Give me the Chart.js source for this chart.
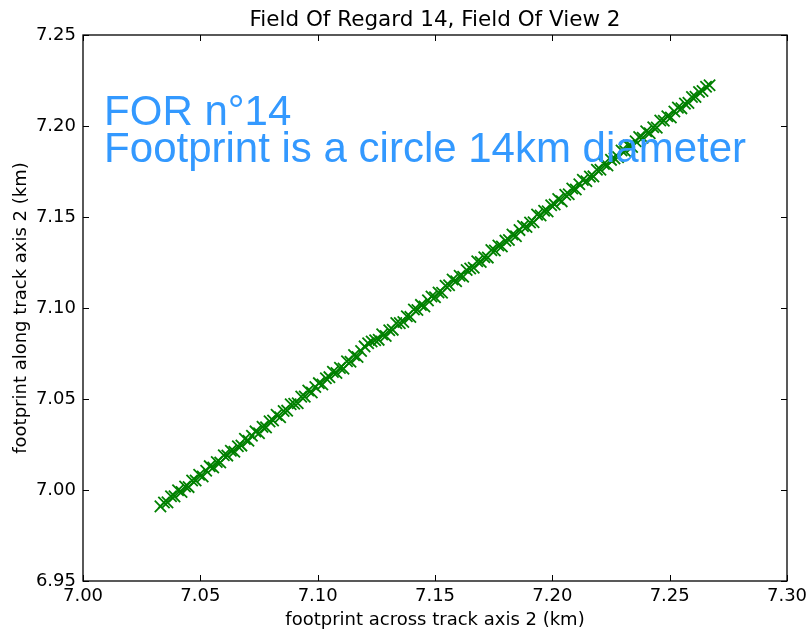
<!DOCTYPE html>
<html>
<head>
<meta charset="utf-8">
<script src="https://cdn.jsdelivr.net/npm/chart.js@4.4.0/dist/chart.umd.min.js"></script>
<style>
  html, body { margin: 0; padding: 0; background: #fff; }
  #wrap { width: 809px; height: 631px; }
</style>
</head>
<body>
<div id="wrap"><canvas id="fovChart" width="809" height="631"></canvas></div>
<script>
// footprint positions (km), FOR 14 / FOV 2
const acrossTrack = [
    7.0330, 7.0345, 7.0360, 7.0375, 7.0390, 7.0405, 7.0420, 7.0435, 7.0450, 7.0465,
    7.0480, 7.0495, 7.0510, 7.0525, 7.0540, 7.0555, 7.0570, 7.0585, 7.0600, 7.0615,
    7.0630, 7.0645, 7.0660, 7.0675, 7.0690, 7.0705, 7.0720, 7.0735, 7.0750, 7.0765,
    7.0780, 7.0795, 7.0810, 7.0825, 7.0840, 7.0855, 7.0870, 7.0885, 7.0900, 7.0915,
    7.0930, 7.0945, 7.0960, 7.0975, 7.0990, 7.1005, 7.1020, 7.1035, 7.1050, 7.1065,
    7.1080, 7.1095, 7.1110, 7.1125, 7.1140, 7.1155, 7.1170, 7.1185, 7.1200, 7.1215,
    7.1230, 7.1245, 7.1260, 7.1275, 7.1290, 7.1305, 7.1320, 7.1335, 7.1350, 7.1365,
    7.1380, 7.1395, 7.1410, 7.1425, 7.1440, 7.1455, 7.1470, 7.1485, 7.1500, 7.1515,
    7.1530, 7.1545, 7.1560, 7.1575, 7.1590, 7.1605, 7.1620, 7.1635, 7.1650, 7.1665,
    7.1680, 7.1695, 7.1710, 7.1725, 7.1740, 7.1755, 7.1770, 7.1785, 7.1800, 7.1815,
    7.1830, 7.1845, 7.1860, 7.1875, 7.1890, 7.1905, 7.1920, 7.1935, 7.1950, 7.1965,
    7.1980, 7.1995, 7.2010, 7.2025, 7.2040, 7.2055, 7.2070, 7.2085, 7.2100, 7.2115,
    7.2130, 7.2145, 7.2160, 7.2175, 7.2190, 7.2205, 7.2220, 7.2235, 7.2250, 7.2265,
    7.2280, 7.2295, 7.2310, 7.2325, 7.2340, 7.2355, 7.2370, 7.2385, 7.2400, 7.2415,
    7.2430, 7.2445, 7.2460, 7.2475, 7.2490, 7.2505, 7.2520, 7.2535, 7.2550, 7.2565,
    7.2580, 7.2595, 7.2610, 7.2625, 7.2640, 7.2655, 7.2670
];
const alongTrack = [
    6.9910, 6.9931, 6.9932, 6.9966, 6.9965, 6.9999, 6.9989, 7.0019, 7.0016, 7.0052,
    7.0052, 7.0084, 7.0074, 7.0106, 7.0131, 7.0124, 7.0154, 7.0151, 7.0191, 7.0189,
    7.0216, 7.0210, 7.0240, 7.0244, 7.0281, 7.0271, 7.0298, 7.0322, 7.0312, 7.0347,
    7.0344, 7.0377, 7.0382, 7.0413, 7.0400, 7.0434, 7.0436, 7.0471, 7.0474, 7.0477,
    7.0513, 7.0513, 7.0547, 7.0536, 7.0566, 7.0587, 7.0580, 7.0614, 7.0620, 7.0649,
    7.0643, 7.0671, 7.0667, 7.0707, 7.0705, 7.0741, 7.0731, 7.0764, 7.0789, 7.0806,
    7.0816, 7.0823, 7.0825, 7.0855, 7.0846, 7.0878, 7.0880, 7.0917, 7.0917, 7.0923,
    7.0955, 7.0951, 7.0992, 7.0989, 7.1017, 7.1008, 7.1042, 7.1063, 7.1059, 7.1085,
    7.1084, 7.1122, 7.1125, 7.1157, 7.1147, 7.1177, 7.1172, 7.1209, 7.1217, 7.1221,
    7.1257, 7.1253, 7.1279, 7.1277, 7.1318, 7.1316, 7.1343, 7.1338, 7.1370, 7.1374,
    7.1404, 7.1394, 7.1428, 7.1450, 7.1445, 7.1470, 7.1471, 7.1513, 7.1508, 7.1534,
    7.1531, 7.1565, 7.1569, 7.1599, 7.1586, 7.1622, 7.1625, 7.1657, 7.1651, 7.1680,
    7.1704, 7.1696, 7.1722, 7.1723, 7.1760, 7.1760, 7.1792, 7.1783, 7.1814, 7.1822,
    7.1829, 7.1865, 7.1863, 7.1892, 7.1885, 7.1916, 7.1939, 7.1935, 7.1971, 7.1960,
    7.1993, 7.1991, 7.2030, 7.2029, 7.2054, 7.2047, 7.2080, 7.2101, 7.2097, 7.2123,
    7.2127, 7.2159, 7.2160, 7.2187, 7.2192, 7.2216, 7.2224
];

const xTicks = [7.00, 7.05, 7.10, 7.15, 7.20, 7.25, 7.30];
const yTicks = [6.95, 7.00, 7.05, 7.10, 7.15, 7.20, 7.25];

const titleText = "Field Of Regard 14, Field Of View 2";
const xTitle = "footprint across track axis 2 (km)";
const yTitle = "footprint along track axis 2 (km)";
const noteLines = ["FOR n\u00b014", "Footprint is a circle 14km diameter"];
const notePos = { x: 7.009, y: 7.18 };

const points = acrossTrack.map((x, i) => ({ x: x, y: alongTrack[i] }));

// frame, inward ticks, labels and the note, drawn in the classic style
const framePlugin = {
    id: "frame",
    afterDatasetsDraw(chart) {
        const ctx = chart.ctx;
        const area = chart.chartArea;
        const xs = chart.scales.x;
        const ys = chart.scales.y;
        const tick = 6;

        ctx.save();
        ctx.strokeStyle = "#000";
        ctx.lineWidth = 1;

        ctx.beginPath();
        xTicks.forEach(v => {
            const px = Math.round(xs.getPixelForValue(v)) + 0.5;
            ctx.moveTo(px, area.bottom); ctx.lineTo(px, area.bottom - tick);
            ctx.moveTo(px, area.top); ctx.lineTo(px, area.top + tick);
        });
        yTicks.forEach(v => {
            const py = Math.round(ys.getPixelForValue(v)) + 0.5;
            ctx.moveTo(area.left, py); ctx.lineTo(area.left + tick, py);
            ctx.moveTo(area.right, py); ctx.lineTo(area.right - tick, py);
        });
        ctx.stroke();

        ctx.lineWidth = 1.3;
        ctx.strokeRect(area.left, area.top, area.right - area.left, area.bottom - area.top);

        // tick labels
        ctx.fillStyle = "#000";
        ctx.font = "18px 'DejaVu Sans'";
        ctx.textAlign = "center";
        ctx.textBaseline = "top";
        xTicks.forEach(v => {
            ctx.fillText(v.toFixed(2), xs.getPixelForValue(v), area.bottom + 6);
        });
        ctx.textAlign = "right";
        ctx.textBaseline = "middle";
        yTicks.forEach(v => {
            ctx.fillText(v.toFixed(2), area.left - 7, ys.getPixelForValue(v));
        });

        // axis titles
        ctx.textAlign = "center";
        ctx.textBaseline = "alphabetic";
        ctx.fillText(xTitle, (area.left + area.right) / 2, 625);
        ctx.save();
        ctx.translate(26, (area.top + area.bottom) / 2);
        ctx.rotate(-Math.PI / 2);
        ctx.fillText(yTitle, 0, 0);
        ctx.restore();

        ctx.font = "21.5px 'DejaVu Sans'";
        ctx.fillText(titleText, (area.left + area.right) / 2, 26);

        // note in data coordinates, last line sits on the anchor
        ctx.fillStyle = "#3399ff";
        ctx.font = "42px 'Liberation Sans'";
        ctx.textAlign = "left";
        const nx = xs.getPixelForValue(notePos.x);
        const ny = ys.getPixelForValue(notePos.y);
        const lineGap = 37;
        noteLines.forEach((t, i) => {
            ctx.fillText(t, nx, ny - (noteLines.length - 1 - i) * lineGap);
        });
        ctx.restore();
    }
};

new Chart(document.getElementById("fovChart"), {
    type: "scatter",
    data: {
        datasets: [{
            data: points,
            pointStyle: "crossRot",
            pointRadius: 8,
            pointHoverRadius: 8,
            borderColor: "#008000",
            backgroundColor: "#008000",
            borderWidth: 1.8
        }]
    },
    options: {
        responsive: false,
        animation: false,
        events: [],
        layout: { padding: { left: 83, right: 22, top: 35, bottom: 50 } },
        plugins: {
            legend: { display: false },
            tooltip: { enabled: false }
        },
        scales: {
            x: { type: "linear", min: 7.00, max: 7.30, display: false },
            y: { type: "linear", min: 6.95, max: 7.25, display: false }
        }
    },
    plugins: [framePlugin]
});
</script>
</body>
</html>
